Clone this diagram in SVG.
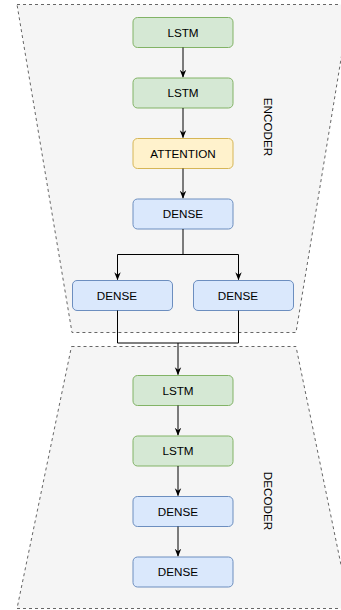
<svg xmlns="http://www.w3.org/2000/svg" width="341" height="610" viewBox="0 0 341 610">
<defs>
<marker id="arr" viewBox="0 0 10 10" refX="9" refY="5" markerWidth="8" markerHeight="8" markerUnits="userSpaceOnUse" orient="auto">
<path d="M0,1 L10,5 L0,9 L3,5 Z" fill="#000"/>
</marker>
</defs>
<style>
.grp{fill:#f5f5f5;stroke:#666;stroke-width:1;stroke-dasharray:3,3}
.g{fill:#d5e8d4;stroke:#82b366}
.y{fill:#fff2cc;stroke:#d6b656}
.b{fill:#dae8fc;stroke:#6c8ebf}
text{font-family:"Liberation Sans",Arial,sans-serif;font-size:11.7px;fill:#000;text-anchor:middle}
.c{fill:none;stroke:#000;stroke-width:1}
</style>
<g id="encoder">
<path class="grp" d="M17,4.5 L350,4.5 L296,332.5 L72,332.5 Z"/>
<text transform="translate(264,127) rotate(90)">ENCODER</text>
</g>
<g id="decoder">
<path class="grp" d="M71.5,346.5 L296,346.5 L350,608.5 L17,608.5 Z"/>
<text transform="translate(264,501) rotate(90)">DECODER</text>
</g>
<g id="lstm1"><rect class="g" x="133" y="17.5" width="100" height="30" rx="4.5"/><text x="183" y="36.5">LSTM</text></g>
<g id="lstm2"><rect class="g" x="133" y="78" width="100" height="30" rx="4.5"/><text x="183" y="97">LSTM</text></g>
<g id="attention"><rect class="y" x="133" y="138.5" width="100" height="30" rx="4.5"/><text x="183" y="157.5">ATTENTION</text></g>
<g id="dense1"><rect class="b" x="133" y="199" width="100" height="30" rx="4.5"/><text x="183" y="218">DENSE</text></g>
<g id="dense2"><rect class="b" x="72.5" y="280.5" width="100" height="30" rx="4.5"/><text x="117" y="299.5">DENSE</text></g>
<g id="dense3"><rect class="b" x="193.5" y="280.5" width="100" height="30" rx="4.5"/><text x="238" y="299.5">DENSE</text></g>
<g id="lstm3"><rect class="g" x="133" y="375.5" width="100" height="30" rx="4.5"/><text x="178" y="394.5">LSTM</text></g>
<g id="lstm4"><rect class="g" x="133" y="436" width="100" height="30" rx="4.5"/><text x="178" y="455">LSTM</text></g>
<g id="dense4"><rect class="b" x="133" y="496.5" width="100" height="30" rx="4.5"/><text x="178" y="515.5">DENSE</text></g>
<g id="dense5"><rect class="b" x="133" y="557" width="100" height="30" rx="4.5"/><text x="178" y="576">DENSE</text></g>
<g id="connectors">
<path class="c" d="M183,47.5 V77" marker-end="url(#arr)"/>
<path class="c" d="M183,108 V137.5" marker-end="url(#arr)"/>
<path class="c" d="M183,168.5 V198" marker-end="url(#arr)"/>
<path class="c" d="M183,229 V254.5 H117.5 V279.5" marker-end="url(#arr)"/>
<path class="c" d="M183,254.5 H238.5 V279.5" marker-end="url(#arr)"/>
<path class="c" d="M117.5,310.5 V343 H178 V374.5" marker-end="url(#arr)"/>
<path class="c" d="M238.5,310.5 V343 H178"/>
<path class="c" d="M178,405.5 V435" marker-end="url(#arr)"/>
<path class="c" d="M178,466 V495.5" marker-end="url(#arr)"/>
<path class="c" d="M178,526.5 V556" marker-end="url(#arr)"/>
</g>
</svg>
